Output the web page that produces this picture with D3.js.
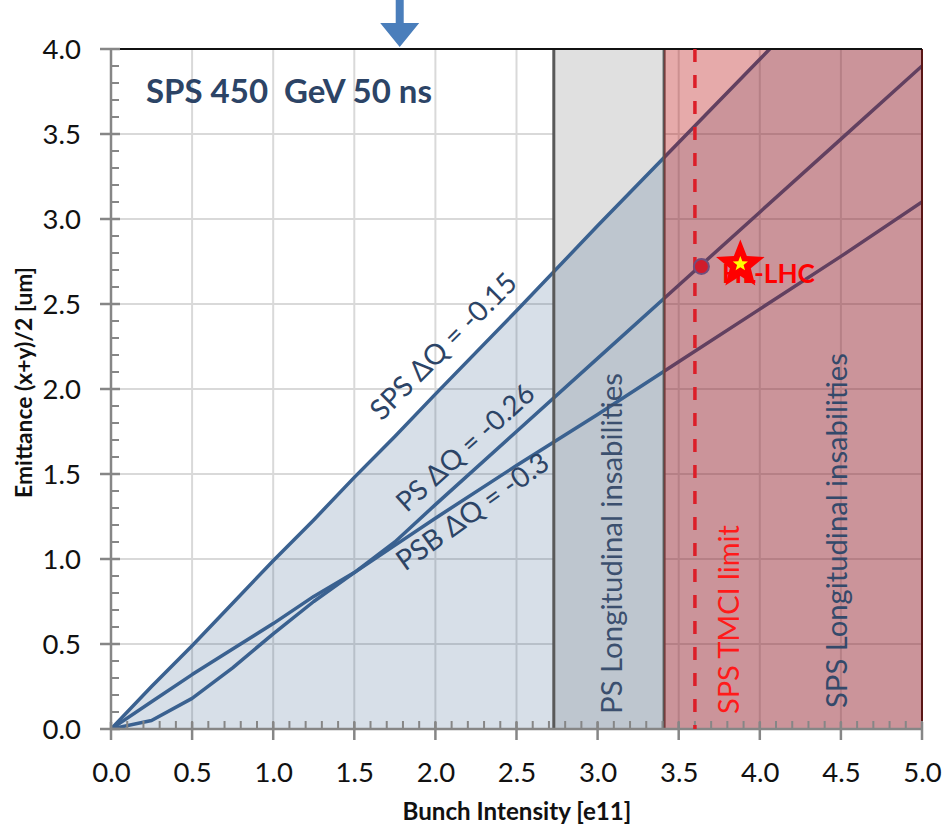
<!DOCTYPE html>
<html><head><meta charset="utf-8">
<script src="https://cdn.jsdelivr.net/npm/d3@7"></script>
<style>body{margin:0;background:#fff}svg{display:block}text{font-family:Lato,"Open Sans",sans-serif}</style>
</head><body><svg id="c" width="945" height="825"></svg>
<script>
// ---- data ----
const intensity = [0,0.25,0.5,0.75,1,1.25,1.5,1.75,2,2.5,3,3.5,4,4.5,5];
const spsDQ015 = [0,0.25,0.49,0.74,0.99,1.23,1.48,1.72,1.97,2.46,2.96,3.45,3.94,4.43,4.93];
const psDQ026  = [0,0.16,0.32,0.47,0.62,0.78,0.92,1.10,1.32,1.75,2.18,2.61,3.04,3.47,3.90];
const psbDQ03  = [0,0.05,0.18,0.36,0.56,0.75,0.92,1.08,1.24,1.55,1.85,2.16,2.47,2.78,3.10];
const psLongRange = [2.73, 3.41];
const spsLongRange = [3.41, 5.0];
const tmciLimit = 3.6;
const operPoint = [3.64, 2.72];
const hlLhc = [3.88, 2.73];
const arrowAt = 1.78;
const xTicks = [0,0.5,1,1.5,2,2.5,3,3.5,4,4.5,5];
const yTicks = [0,0.5,1,1.5,2,2.5,3,3.5,4];
const minorX = d3.range(0,5.001,0.1);
const minorY = d3.range(0,4.001,0.1);

const svg = d3.select("#c");
const x = d3.scaleLinear().domain([0,5]).range([111,922]);
const y = d3.scaleLinear().domain([0,4]).range([729,49]);

function fit(sel, target){
  const n = sel.node(); const fs = parseFloat(sel.attr("font-size"));
  const w = n.getComputedTextLength(); if (w>0) sel.attr("font-size", fs*target/w);
  return sel;
}

svg.append("defs").append("clipPath").attr("id","plot")
  .append("rect").attr("x",x(0)).attr("y",y(4)).attr("width",x(5)-x(0)).attr("height",y(0)-y(4));

// grid
const g = svg.append("g");
g.selectAll(".gv").data(xTicks.slice(1)).join("line")
  .attr("x1",d=>x(d)).attr("x2",d=>x(d)).attr("y1",y(4)).attr("y2",y(0))
  .attr("stroke","#d9d9d9").attr("stroke-width",2);
g.selectAll(".gh").data(yTicks.slice(1)).join("line")
  .attr("x1",x(0)).attr("x2",x(5)).attr("y1",d=>y(d)).attr("y2",d=>y(d))
  .attr("stroke","#d9d9d9").attr("stroke-width",2);

// PS longitudinal band
svg.append("rect").attr("x",x(psLongRange[0])).attr("y",y(4))
  .attr("width",x(psLongRange[1])-x(psLongRange[0])).attr("height",y(0)-y(4))
  .attr("fill","#e0e0e0");

// area under SPS line
const rows = intensity.map((v,i)=>({x:v, a:spsDQ015[i], b:psDQ026[i], c:psbDQ03[i]}));
svg.append("path").datum(rows).attr("clip-path","url(#plot)")
  .attr("d", d3.area().x(d=>x(d.x)).y0(y(0)).y1(d=>y(d.a)))
  .attr("fill","rgba(58,97,144,0.205)");

// lines
const lineCol = "#3a6190";
["a","b","c"].forEach(k=>{
  svg.append("path").datum(rows).attr("clip-path","url(#plot)")
    .attr("d", d3.line().x(d=>x(d.x)).y(d=>y(d[k])))
    .attr("fill","none").attr("stroke",lineCol).attr("stroke-width",3.5).attr("stroke-linejoin","round");
});

// gray band borders
psLongRange.forEach(v=>{
  svg.append("line").attr("x1",x(v)).attr("x2",x(v)).attr("y1",y(4)).attr("y2",y(0))
    .attr("stroke","#595959").attr("stroke-width",3);
});

// line labels
const lblCol = "#2c4466";
function rotLabel(txt, px, py, ang, len){
  const t = svg.append("text").attr("transform",`translate(${x(px)},${y(py)}) rotate(${ang})`)
    .attr("font-size",27).attr("fill",lblCol).text(txt);
  fit(t,len);
}
rotLabel("SPS \u0394Q = -0.15", 1.669, 1.808, -45, 194);
rotLabel("PS \u0394Q = -0.26", 1.823, 1.269, -42, 175);
rotLabel("PSB \u0394Q = -0.3", 1.813, 0.925, -35.6, 180);

// vertical texts
function vText(txt, bx, by, len, col){
  const t = svg.append("text").attr("transform",`translate(${bx},${by}) rotate(-90)`)
    .attr("font-size",27).attr("fill",col).text(txt);
  fit(t,len);
}
vText("PS Longitudinal insabilities", 622, 714, 341, "#3b4f6e");

// SPS longitudinal red band (overlay)
svg.append("rect").attr("x",x(spsLongRange[0])).attr("y",y(4))
  .attr("width",x(spsLongRange[1])-x(spsLongRange[0])).attr("height",y(0)-y(4))
  .attr("fill","rgba(180,0,0,0.333)");
svg.append("line").attr("x1",x(5)).attr("x2",x(5)).attr("y1",y(4)).attr("y2",y(0))
  .attr("stroke","#5a1616").attr("stroke-width",2);

vText("SPS Longitudinal insabilities", 847, 708, 355, "#34496a");

// axes
const axCol = "#868686";
svg.append("line").attr("x1",x(0)).attr("x2",x(5)).attr("y1",y(0)).attr("y2",y(0)).attr("stroke",axCol).attr("stroke-width",2.5);
svg.append("line").attr("x1",x(0)).attr("x2",x(0)).attr("y1",y(0)).attr("y2",y(4)).attr("stroke",axCol).attr("stroke-width",2.5);
svg.selectAll(".mx").data(minorX).join("line")
  .attr("x1",d=>x(d)).attr("x2",d=>x(d)).attr("y1",y(0)).attr("y2",y(0)-8)
  .attr("stroke",axCol).attr("stroke-width",2);
svg.selectAll(".my").data(minorY).join("line")
  .attr("y1",d=>y(d)).attr("y2",d=>y(d)).attr("x1",x(0)).attr("x2",x(0)+8)
  .attr("stroke",axCol).attr("stroke-width",2);
svg.selectAll(".tx").data(xTicks).join("line")
  .attr("x1",d=>x(d)).attr("x2",d=>x(d)).attr("y1",y(0)-7).attr("y2",y(0)+11)
  .attr("stroke",axCol).attr("stroke-width",2.5);
svg.selectAll(".ty").data(yTicks).join("line")
  .attr("y1",d=>y(d)).attr("y2",d=>y(d)).attr("x1",x(0)-11).attr("x2",x(0)+9)
  .attr("stroke",axCol).attr("stroke-width",2.5);

// top border
svg.append("line").attr("x1",x(0)+9).attr("x2",x(5)).attr("y1",y(4)).attr("y2",y(4))
  .attr("stroke","#111").attr("stroke-width",2);

// tick labels via axes
const fmt = d3.format(".1f");
const ya = svg.append("g").attr("transform",`translate(${x(0)-30},0)`)
  .call(d3.axisLeft(y).tickValues(yTicks).tickFormat(fmt).tickSize(0).tickPadding(0));
ya.select(".domain").remove();
ya.selectAll("text").attr("font-size",27.5).attr("font-family","Lato").attr("fill","#111").attr("dy","0.36em");
const xa = svg.append("g").attr("transform",`translate(0,${y(0)+33})`)
  .call(d3.axisBottom(x).tickValues(xTicks).tickFormat(fmt).tickSize(0).tickPadding(0));
xa.select(".domain").remove();
xa.selectAll("text").attr("font-size",27.5).attr("font-family","Lato").attr("fill","#111").attr("dy","0.71em");

// axis titles
const xt = svg.append("text").attr("x",517).attr("y",820).attr("text-anchor","middle")
  .attr("font-size",23).attr("font-weight","bold").attr("fill","#111").text("Bunch Intensity [e11]");
fit(xt,229);
const ytt = svg.append("text").attr("transform","translate(32,382.5) rotate(-90)").attr("text-anchor","middle")
  .attr("font-size",23).attr("font-weight","bold").attr("fill","#111").text("Emittance (x+y)/2 [um]");
fit(ytt,231);

// title
const tt = svg.append("text").attr("x",146).attr("y",102.5).attr("font-size",33).attr("font-weight","bold")
  .attr("fill","#2c4466").style("white-space","pre").text("SPS 450  GeV 50 ns");
fit(tt,286);

// TMCI dashed limit
svg.append("line").attr("x1",x(tmciLimit)).attr("x2",x(tmciLimit)).attr("y1",y(4)).attr("y2",y(0))
  .attr("stroke","#dc1e28").attr("stroke-width",3.5).attr("stroke-dasharray","13,13");
vText("SPS TMCI limit", 739, 714, 189, "#ff1a1a");

// operating point
svg.append("circle").attr("cx",x(operPoint[0])).attr("cy",y(operPoint[1])).attr("r",7.5)
  .attr("fill","#d01c2c").attr("stroke","#6e4f7e").attr("stroke-width",2);

// HL-LHC label + star
const hl = svg.append("text").attr("x",722).attr("y",283).attr("font-size",28).attr("font-weight","bold")
  .attr("fill","#ff0000").text("HL-LHC");
fit(hl,93);
function starPts(cx,cy,R,r){
  const p=[]; for(let i=0;i<10;i++){const a=-Math.PI/2+i*Math.PI/5; const rr=i%2?r:R; p.push([cx+rr*Math.cos(a),cy+rr*Math.sin(a)]);} return p.map(q=>q.join(",")).join(" ");
}
const sx = x(hlLhc[0]), sy = y(hlLhc[1]);
svg.append("polygon").attr("points",starPts(sx,sy,25.5,11)).attr("fill","#ff0000");
svg.append("polygon").attr("points",starPts(sx,sy-1,8,3.4)).attr("fill","#ffff00");

// arrow
const ax = x(arrowAt);
svg.append("path").attr("d",`M${ax-4},0 L${ax+4},0 L${ax+4},23 L${ax+19.5},23 L${ax},47 L${ax-19.5},23 L${ax-4},23 Z`)
  .attr("fill","#4a7ebb");
</script></body></html>
